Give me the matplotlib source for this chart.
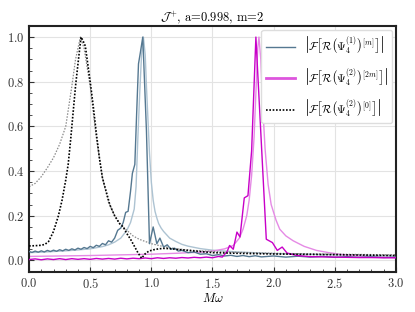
import numpy as np
import matplotlib
matplotlib.use("Agg")
import matplotlib.pyplot as plt
from matplotlib.ticker import MultipleLocator

plt.rcParams['font.family'] = 'serif'
plt.rcParams['font.serif'] = ['cmr10', 'DejaVu Serif']
plt.rcParams['mathtext.fontset'] = 'cm'
plt.rcParams['axes.formatter.use_mathtext'] = True

# =============================================================================
# DATA
# =============================================================================

# Psi4^(1), mode [m] : raw spectrum
w_psi1 = [0.00, 0.025, 0.05, 0.075, 0.10, 0.125, 0.15, 0.175, 0.20, 0.225,
          0.25, 0.275, 0.30, 0.325, 0.35, 0.375, 0.40, 0.425, 0.45, 0.475,
          0.50, 0.525, 0.55, 0.575, 0.60, 0.625, 0.65, 0.675, 0.70, 0.725,
          0.75, 0.77, 0.79, 0.81, 0.83, 0.845, 0.865, 0.88, 0.895, 0.91,
          0.93, 0.96, 0.985, 1.015, 1.045, 1.07, 1.10, 1.13, 1.16, 1.19,
          1.22, 1.25, 1.30, 1.35, 1.40, 1.45, 1.50, 1.55, 1.60, 1.65,
          1.70, 1.75, 1.80, 1.85, 1.90, 2.00, 2.10, 2.20, 2.30, 2.40,
          2.50, 2.60, 2.70, 2.80, 2.90, 3.00]
a_psi1 = [0.040, 0.036, 0.042, 0.037, 0.043, 0.038, 0.045, 0.040, 0.046, 0.041,
          0.048, 0.043, 0.050, 0.045, 0.052, 0.047, 0.055, 0.050, 0.058, 0.053,
          0.063, 0.057, 0.068, 0.063, 0.076, 0.070, 0.088, 0.082, 0.100, 0.135,
          0.145, 0.170, 0.215, 0.220, 0.310, 0.390, 0.430, 0.660, 0.880, 0.930,
          1.000, 0.580, 0.075, 0.150, 0.075, 0.100, 0.060, 0.070, 0.050, 0.055,
          0.042, 0.045, 0.035, 0.038, 0.028, 0.030, 0.022, 0.026, 0.020, 0.023,
          0.018, 0.022, 0.017, 0.021, 0.016, 0.020, 0.015, 0.019, 0.015, 0.018,
          0.014, 0.017, 0.014, 0.016, 0.013, 0.015]

# Psi4^(1), mode [m] : smooth fit
w_psi1_fit = [0.0, 0.1, 0.2, 0.3, 0.4, 0.5, 0.6, 0.65, 0.7, 0.75, 0.8, 0.83,
              0.86, 0.875, 0.89, 0.905, 0.92, 0.935, 0.95, 0.96, 0.975, 0.985,
              1.0, 1.015, 1.03, 1.045, 1.06, 1.08, 1.10, 1.15, 1.2, 1.25, 1.3,
              1.4, 1.5, 1.7, 2.0, 2.5, 3.0]
a_psi1_fit = [0.035, 0.037, 0.040, 0.043, 0.047, 0.052, 0.062, 0.070, 0.082,
              0.100, 0.135, 0.170, 0.230, 0.330, 0.550, 0.750, 0.920, 1.000,
              0.920, 0.780, 0.600, 0.480, 0.350, 0.270, 0.220, 0.190, 0.165,
              0.145, 0.130, 0.100, 0.085, 0.072, 0.064, 0.053, 0.046, 0.038,
              0.031, 0.025, 0.020]

# Psi4^(2), mode [2m] : raw spectrum
w_psi2_2m = [0.0, 0.05, 0.1, 0.15, 0.2, 0.25, 0.3, 0.35, 0.4, 0.45, 0.5, 0.55,
             0.6, 0.65, 0.7, 0.75, 0.8, 0.85, 0.9, 0.95, 1.0, 1.05, 1.1, 1.15,
             1.2, 1.25, 1.3, 1.35, 1.4, 1.45, 1.5, 1.55, 1.58, 1.62, 1.64,
             1.67, 1.70, 1.725, 1.76, 1.79, 1.82, 1.855, 1.94, 1.99, 2.03,
             2.07, 2.11, 2.19, 2.3, 2.4, 2.5, 2.6, 2.7, 2.8, 2.9, 3.0]
a_psi2_2m = [0.004, 0.007, 0.003, 0.007, 0.004, 0.008, 0.004, 0.008, 0.005,
             0.008, 0.005, 0.009, 0.006, 0.009, 0.006, 0.010, 0.007, 0.010,
             0.008, 0.011, 0.008, 0.012, 0.009, 0.012, 0.010, 0.013, 0.011,
             0.014, 0.012, 0.015, 0.012, 0.018, 0.015, 0.040, 0.067, 0.050,
             0.127, 0.105, 0.280, 0.290, 0.490, 1.000, 0.095, 0.080, 0.045,
             0.060, 0.033, 0.022, 0.017, 0.016, 0.015, 0.014, 0.013, 0.013,
             0.012, 0.012]

# Psi4^(2), mode [2m] : smooth fit
w_psi2_2m_fit = [0.0, 0.5, 1.0, 1.2, 1.4, 1.5, 1.6, 1.67, 1.72, 1.75, 1.78,
                 1.80, 1.82, 1.84, 1.855, 1.87, 1.88, 1.895, 1.91, 1.93, 1.955,
                 1.98, 2.02, 2.05, 2.10, 2.16, 2.25, 2.35, 2.45, 2.55, 2.75, 3.0]
a_psi2_2m_fit = [0.018, 0.022, 0.028, 0.032, 0.037, 0.042, 0.052, 0.067,
                 0.100, 0.140, 0.200, 0.270, 0.380, 0.550, 0.750, 0.950,
                 1.000, 0.900, 0.700, 0.500, 0.340, 0.250, 0.180, 0.140,
                 0.110, 0.088, 0.063, 0.045, 0.035, 0.027, 0.018, 0.012]

# Psi4^(2), mode [0] : raw spectrum
w_psi2_0 = [0.0, 0.05, 0.10, 0.13, 0.16, 0.20, 0.24, 0.27, 0.30, 0.32, 0.34,
            0.36, 0.38, 0.40, 0.425, 0.44, 0.46, 0.48, 0.50, 0.525, 0.55,
            0.575, 0.60, 0.63, 0.66, 0.70, 0.74, 0.77, 0.80, 0.83, 0.86, 0.89,
            0.92, 0.95, 0.98, 1.02, 1.06, 1.10, 1.15, 1.2, 1.3, 1.4, 1.5, 1.7,
            2.0, 2.5, 3.0]
a_psi2_0 = [0.065, 0.066, 0.068, 0.072, 0.085, 0.130, 0.200, 0.270, 0.360,
            0.430, 0.540, 0.660, 0.780, 0.880, 1.000, 0.985, 0.960, 0.880,
            0.800, 0.690, 0.570, 0.460, 0.370, 0.310, 0.250, 0.200, 0.165,
            0.150, 0.120, 0.095, 0.065, 0.035, 0.010, 0.030, 0.042, 0.048,
            0.052, 0.054, 0.053, 0.050, 0.045, 0.040, 0.035, 0.032, 0.029,
            0.026, 0.022]

# Psi4^(2), mode [0] : smooth fit
w_psi2_0_fit = [0.0, 0.05, 0.10, 0.15, 0.20, 0.25, 0.30, 0.35, 0.38, 0.42,
                0.45, 0.50, 0.55, 0.60, 0.65, 0.70, 0.75, 0.80, 0.85, 0.90,
                0.95, 1.0, 1.1, 1.2, 1.3, 1.4, 1.6, 2.0, 2.5, 3.0]
a_psi2_0_fit = [0.330, 0.345, 0.375, 0.415, 0.460, 0.520, 0.600, 0.780,
                0.900, 1.000, 0.950, 0.780, 0.550, 0.370, 0.260, 0.200,
                0.160, 0.135, 0.110, 0.095, 0.085, 0.075, 0.062, 0.052,
                0.047, 0.043, 0.038, 0.032, 0.028, 0.025]

lab_psi1 = r'$\left|\mathcal{F}\left[\mathcal{R}\left(\Psi_4^{(1)}\right)^{[m]}\right]\right|$'
lab_psi2_2m = r'$\left|\mathcal{F}\left[\mathcal{R}\left(\Psi_4^{(2)}\right)^{[2m]}\right]\right|$'
lab_psi2_0 = r'$\left|\mathcal{F}\left[\mathcal{R}\left(\Psi_4^{(2)}\right)^{[0]}\right]\right|$'

# =============================================================================
# PLOT
# =============================================================================

fig = plt.figure(figsize=(4.15, 3.12), dpi=100)
ax = fig.add_axes([0.070, 0.128, 0.884, 0.789])

ax.plot(w_psi1_fit, a_psi1_fit, c="#adc3d2", lw=1.0, zorder=2)
ax.plot(w_psi2_2m_fit, a_psi2_2m_fit, c="#e58ae5", lw=1.0, zorder=2)
ax.plot(w_psi2_0_fit, a_psi2_0_fit, c="#8a8a8a", lw=0.9, ls=(0, (1.2, 1.2)), zorder=2)

ax.plot(w_psi1, a_psi1, c="#557891", lw=1.0, label=lab_psi1, zorder=3)
ax.plot(w_psi2_2m, a_psi2_2m, c="#c800c8", lw=1.0, label=lab_psi2_2m, zorder=3)
ax.plot(w_psi2_0, a_psi2_0, c="black", lw=1.2, ls=(0, (1.0, 1.0)), label=lab_psi2_0, zorder=4)

ax.set_xlim(0, 3.0)
ax.set_ylim(-0.052, 1.05)
ax.xaxis.set_major_locator(MultipleLocator(0.5))
ax.xaxis.set_minor_locator(MultipleLocator(0.1))
ax.yaxis.set_major_locator(MultipleLocator(0.2))
ax.yaxis.set_minor_locator(MultipleLocator(0.05))
ax.tick_params(which="both", direction="in", labelsize=9, colors="#333333")
ax.tick_params(which="major", length=3.5)
ax.tick_params(which="minor", length=2)
ax.grid(True, color="#e3e3e3", lw=0.8)
ax.set_axisbelow(True)
for sp in ax.spines.values():
    sp.set_linewidth(1.5)
    sp.set_color("#222222")

ax.set_xlabel(r'$M\omega$', fontsize=9, labelpad=1)
ax.set_title(r'$\mathcal{J}^{+}$, a=0.998, m=2', fontsize=9, pad=3)

leg = ax.legend(loc="upper right", fontsize=8, handlelength=2.6,
                borderaxespad=0.35, labelspacing=0.95, framealpha=1,
                edgecolor="#dddddd", fancybox=True)
# legend handle of the magenta series is drawn lighter and thicker
leg.get_lines()[1].set_color("#dd55dd")
leg.get_lines()[1].set_linewidth(2.0)

fig.savefig("out.png", dpi=100)
